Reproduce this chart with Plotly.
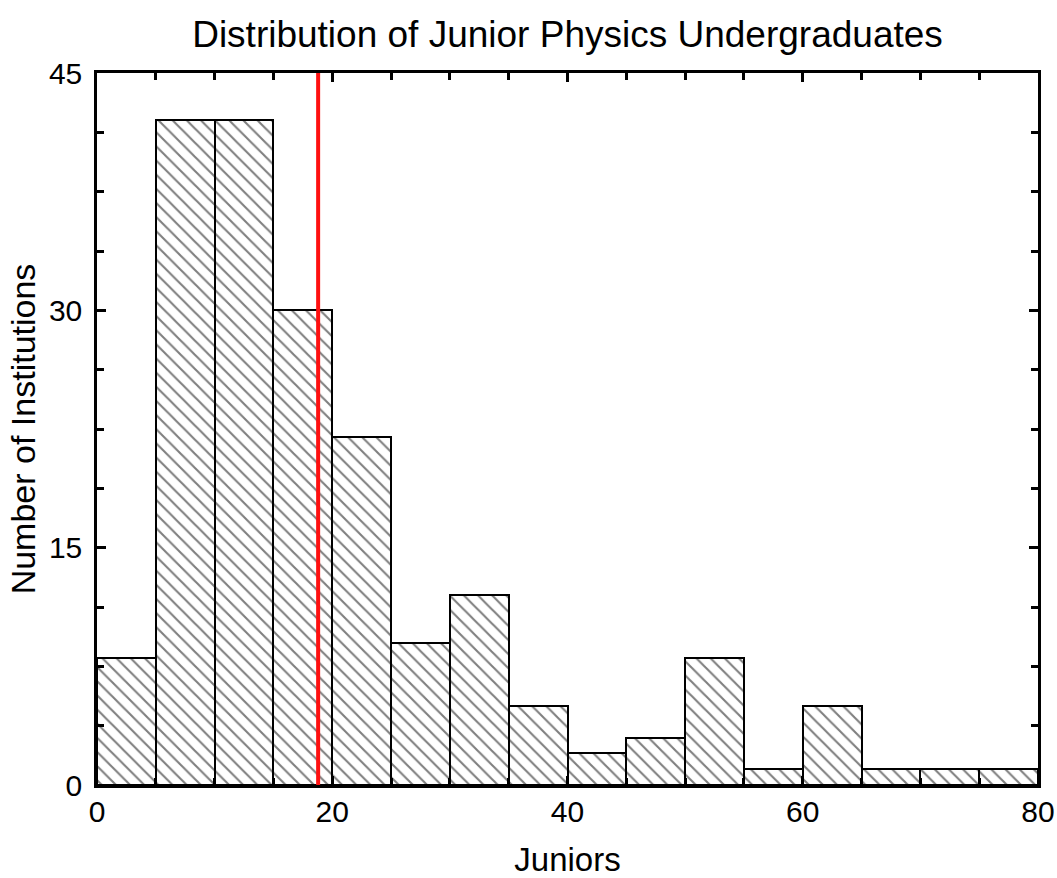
import plotly.graph_objects as go

# Histogram of junior physics undergraduates per institution (bins of 5)
bin_left = [0, 5, 10, 15, 20, 25, 30, 35, 40, 45, 50, 55, 60, 65, 70, 75]
bin_width = 5
counts = [8, 42, 42, 30, 22, 9, 12, 5, 2, 3, 8, 1, 5, 1, 1, 1]
mean_juniors = 18.8

x_tickvals = [0, 20, 40, 60, 80]
y_tickvals = [0, 15, 30, 45]

font_family = "Arial, Liberation Sans, sans-serif"

fig = go.Figure()

fig.add_trace(go.Bar(
    x=[b + bin_width / 2 for b in bin_left],
    y=counts,
    width=bin_width,
    marker=dict(
        color="white",
        line=dict(color="black", width=2),
        pattern=dict(shape="\\", fgcolor="black", bgcolor="white",
                     size=10, solidity=0.21),
    ),
    showlegend=False,
    hoverinfo="x+y",
))

# Vertical marker at the mean
fig.add_trace(go.Scatter(
    x=[mean_juniors, mean_juniors],
    y=[0, 45],
    mode="lines",
    line=dict(color="#ff1010", width=4),
    showlegend=False,
    hoverinfo="skip",
))

axis_common = dict(
    showline=True,
    linecolor="black",
    linewidth=2.5,
    mirror="allticks",
    ticks="inside",
    ticklen=9,
    tickwidth=2.5,
    tickcolor="black",
    showgrid=False,
    zeroline=False,
    automargin=False,
    tickfont=dict(family=font_family, size=30, color="black"),
)

fig.update_xaxes(
    range=[0, 80],
    tickvals=x_tickvals,
    ticktext=[str(v) for v in x_tickvals],
    ticklabelstandoff=-2,
    minor=dict(dtick=5, ticks="inside", ticklen=7, tickwidth=2.5, tickcolor="black"),
    title=dict(text="Juniors", font=dict(family=font_family, size=33, color="black"),
               standoff=22),
    **axis_common,
)
fig.update_yaxes(
    range=[0, 45],
    tickvals=y_tickvals,
    ticktext=[str(v) for v in y_tickvals],
    ticklabelstandoff=6,
    minor=dict(dtick=3.75, tick0=0, ticks="inside", ticklen=7, tickwidth=2.5,
               tickcolor="black"),
    title=dict(text="Number of Institutions",
               font=dict(family=font_family, size=34, color="black"), standoff=3),
    **axis_common,
)

fig.update_layout(
    width=1057,
    height=878,
    margin=dict(l=97, r=19, t=73, b=93),
    paper_bgcolor="white",
    plot_bgcolor="white",
    bargap=0,
    title=dict(
        text="Distribution of Junior Physics Undergraduates",
        font=dict(family=font_family, size=37, color="black"),
        xref="paper", x=0.5, xanchor="center",
        yref="container", y=0.9607, yanchor="middle",
    ),
)

fig.write_html("out.html")
